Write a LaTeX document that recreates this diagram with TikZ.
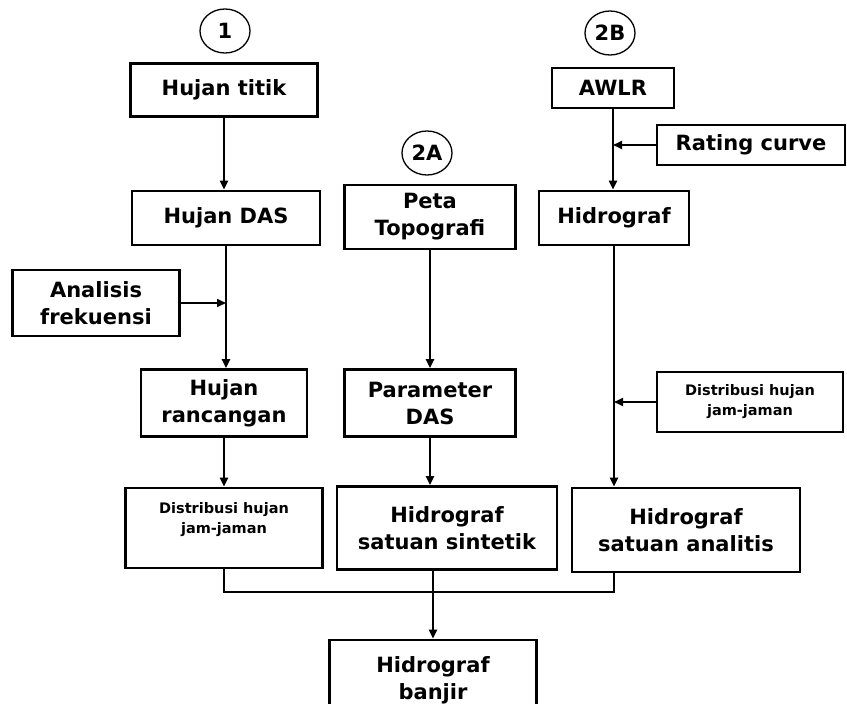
\documentclass[tikz,border=0pt]{standalone}
\usepackage{fontspec}
\setmainfont{DejaVu Sans}
\usetikzlibrary{arrows.meta,shapes.geometric}

\begin{document}
\begin{tikzpicture}[x=1pt,y=1pt,
    box/.style={draw,line width=2.8pt,align=center,inner sep=0pt,font=\fontsize{21}{27}\selectfont\bfseries},
    smallbox/.style={box,font=\fontsize{14.5}{20}\selectfont\bfseries},
    num/.style={draw,ellipse,line width=1.3pt,minimum width=50pt,minimum height=44pt,inner sep=0pt,font=\fontsize{21}{25}\selectfont\bfseries},
    arr/.style={line width=2.1pt,-{Triangle[length=9pt,width=8pt]}},
    ln/.style={line width=2.8pt}]
      \useasboundingbox (0,0) rectangle (847,-704);

      % jalur 1
      \node[num] (c1) at (225,-31) {1};
      \node[box,minimum width=187,minimum height=53] (titik) at (224,-90) {Hujan titik};
      \node[box,minimum width=188,minimum height=54] (das) at (226,-218) {Hujan DAS};
      \node[box,minimum width=167,minimum height=66] (analisis) at (96,-303) {Analisis\\frekuensi};
      \node[box,minimum width=166,minimum height=67] (rancangan) at (224,-403) {Hujan\\rancangan};
      \node[smallbox,minimum width=197,minimum height=80] (distkiri) at (224,-528) {Distribusi hujan\\jam-jaman\\\mbox{}};

      % jalur 2A
      \node[num] (c2a) at (427,-153) {2A};
      \node[box,minimum width=171,minimum height=64] (peta) at (430,-217) {Peta\\Topografi};
      \node[box,minimum width=171,minimum height=67] (param) at (430,-403) {Parameter\\DAS};
      \node[box,minimum width=220,minimum height=83] (sintetik) at (447,-528) {Hidrograf\\satuan sintetik};

      % jalur 2B
      \node[num] (c2b) at (610,-33) {2B};
      \node[box,minimum width=122,minimum height=40] (awlr) at (613,-88) {AWLR};
      \node[box,minimum width=188,minimum height=40] (rating) at (751,-145) {Rating curve};
      \node[box,minimum width=150,minimum height=54] (hidro) at (614,-218) {Hidrograf};
      \node[smallbox,minimum width=186,minimum height=60] (distkanan) at (750,-402) {Distribusi hujan\\jam-jaman};
      \node[box,minimum width=228,minimum height=84] (analitis) at (686,-530) {Hidrograf\\satuan analitis};

      % hasil
      \node[box,minimum width=207,minimum height=80] (banjir) at (433,-680) {Hidrograf\\banjir};
      \coordinate (gabung) at (433,-592);

      \draw[arr] (titik.south) -- (titik.south |- das.north);
      \draw[arr] (das.south) -- (das.south |- rancangan.north);
      \draw[arr] (analisis.east) -- (analisis.east -| das.south);
      \draw[arr] (rancangan.south) -- (rancangan.south |- distkiri.north);

      \draw[arr] (peta.south) -- (peta.south |- param.north);
      \draw[arr] (param.south) -- (param.south |- sintetik.north);

      \draw[arr] (awlr.south) -- (awlr.south |- hidro.north);
      \draw[arr] (rating.west) -- (rating.west -| awlr.south);
      \draw[arr] (hidro.south) -- (hidro.south |- analitis.north);
      \draw[arr] (distkanan.west) -- (distkanan.west -| hidro.south);

      \draw[ln] (distkiri.south) |- (gabung) -| (hidro.south |- analitis.south);
      \draw[arr] (banjir.north |- sintetik.south) -- (banjir.north);
    \end{tikzpicture}
\end{document}
